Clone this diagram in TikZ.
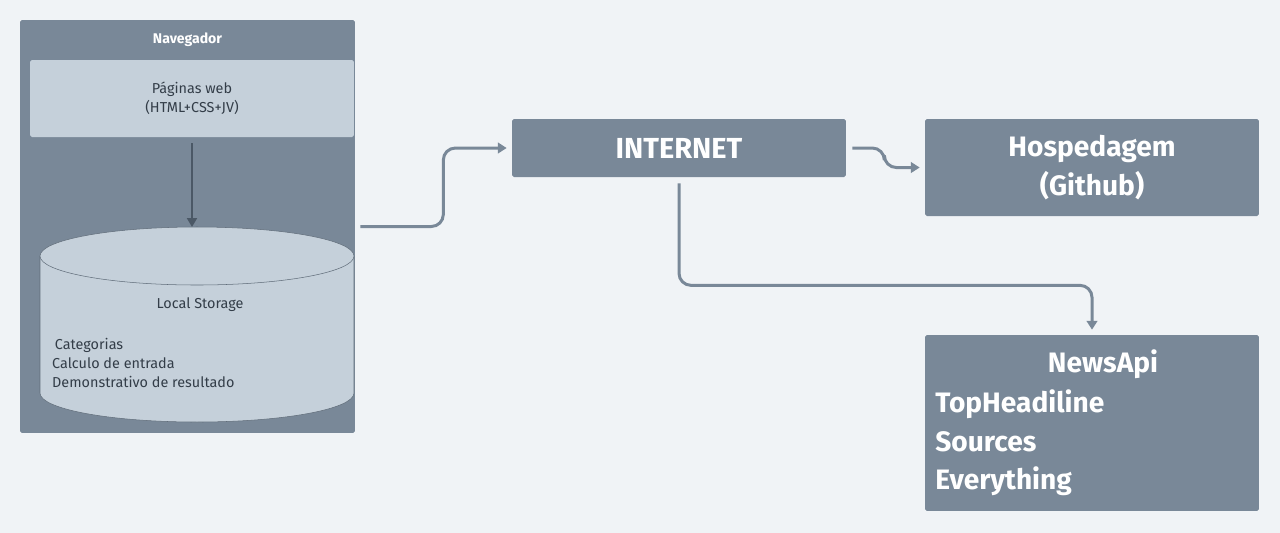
\documentclass[tikz,border=0pt]{standalone}
\usepackage{fontspec}
\setmainfont{Fira Sans}
\usetikzlibrary{arrows.meta}

\definecolor{fundo}{HTML}{F0F3F6}
\definecolor{caixa}{HTML}{798898}
\definecolor{clara}{HTML}{C5D0DA}
\definecolor{texto}{HTML}{333D48}
\definecolor{seta}{HTML}{4B5866}

\tikzset{
	caixa/.style={rectangle, fill=caixa, rounded corners=1pt, inner sep=0pt, text=white},
	clara/.style={rectangle, fill=clara, rounded corners=1pt, inner sep=0pt, text=texto},
	conn/.style={draw=caixa, line width=1.7pt, rounded corners=0.24cm, -{Triangle[length=5pt,width=6pt]}},
}

\begin{document}
\begin{tikzpicture}[x=0.02cm, y=-0.02cm]
		\useasboundingbox (0,0) rectangle (1280,532);
		\fill[fundo] (-5,-5) rectangle (1285,537);

		% navegador
		\node[caixa, minimum width=6.7cm, minimum height=8.26cm] (nav) at (187.5,226.5) {};
		\node[text=white, font=\fontsize{8}{10}\selectfont\bfseries] (navtit) at (187.5,40) {Navegador};
		\node[clara, minimum width=6.48cm, minimum height=1.54cm, align=center,
			font=\fontsize{8.2}{10.8}\selectfont] (paginas) at (192,98.5) {Páginas web\\(HTML+CSS+JV)};

		% cilindro
		\coordinate (topo) at (197,227);
		\draw[caixa!80!black, line width=0.3pt, fill=clara] (40,256) -- (40,393)
			arc[start angle=180, end angle=0, x radius=157, y radius=29] -- (354,256);
		\draw[caixa!80!black, line width=0.3pt, fill=clara] (197,256) ellipse[x radius=157, y radius=29];
		\node[text=texto, font=\fontsize{8.2}{10}\selectfont] (storage) at (200,305) {Local Storage};
		\node[text=texto, anchor=west, align=left, font=\fontsize{8.2}{11}\selectfont] (itens) at (46,363)
			{\hspace{1.5pt}Categorias\\Calculo de entrada\\Demonstrativo de resultado};

		% servidores
		\node[caixa, minimum width=6.68cm, minimum height=1.16cm,
			font=\fontsize{16.5}{18}\selectfont\bfseries] (internet) at (679,148) {INTERNET};
		\node[caixa, minimum width=6.68cm, minimum height=1.94cm, align=center,
			font=\fontsize{16}{22}\selectfont\bfseries] (hosp) at (1092,167.5) {Hospedagem\\(Github)};
		\node[caixa, minimum width=6.68cm, minimum height=3.52cm] (newsapi) at (1092,423) {};
		\node[text=white, font=\fontsize{16}{22}\selectfont\bfseries] (newstit) at (1103,364) {NewsApi};
		\node[text=white, anchor=west, align=left, inner sep=0pt,
			font=\fontsize{16}{22}\selectfont\bfseries] (endpoints) at (935,443) {TopHeadiline\\Sources\\Everything};

		\draw[seta, line width=1.5pt, -{Triangle[length=5pt,width=5.5pt]}, shorten <=0.12cm] (paginas.south) -- (paginas.south |- topo);
		\draw[conn, shorten <=0.1cm, shorten >=0.1cm] (nav.east) -- ++(88,0) |- (internet.west);
		\draw[conn, shorten <=0.12cm, shorten >=0.1cm] (internet.east) -- ++(38,0) |- (hosp.west);
		\draw[conn, shorten <=0.12cm, shorten >=0.1cm] (internet.south) -- ++(0,108) -| (newsapi.north);

	\end{tikzpicture}
\end{document}
